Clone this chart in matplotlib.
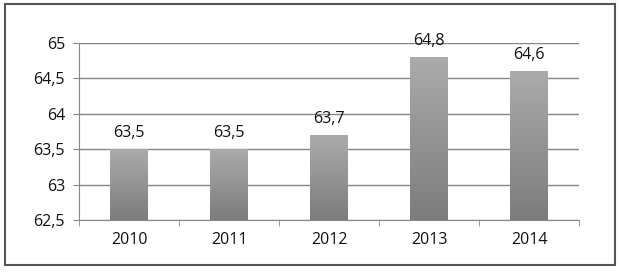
import numpy as np
import matplotlib.pyplot as plt
from matplotlib.colors import LinearSegmentedColormap
from matplotlib.patches import Rectangle

plt.rcParams.update({'font.family': ['Open Sans', 'DejaVu Sans'],
                     'font.size': 11.5})

years = ['2010', '2011', '2012', '2013', '2014']
values = [63.5, 63.5, 63.7, 64.8, 64.6]
yticks = [62.5, 63, 63.5, 64, 64.5, 65]
ytick_labels = ['62,5', '63', '63,5', '64', '64,5', '65']

fig = plt.figure(figsize=(6.2, 2.74), dpi=100)
ax = fig.add_axes([79/620, 1 - 220/274, 500/620, 177/274])

# outer frame
fig.patches.append(Rectangle((5/620, 1 - 265/274), 610/620, 261/274,
                             transform=fig.transFigure, fill=False,
                             edgecolor='#555555', lw=1.5))

x = np.arange(len(years))
bars = ax.bar(x, values, width=0.38, color='none', zorder=3)

ax.set_xlim(-0.5, len(years) - 0.5)
ax.set_ylim(62.5, 65)

# vertical gradient in each bar
cmap = LinearSegmentedColormap.from_list('g', ['#7c7c7c', '#ababab'])
grad = np.linspace(0, 1, 256).reshape(-1, 1)
for b in bars:
    x0, w = b.get_x(), b.get_width()
    ax.imshow(grad, cmap=cmap, origin='lower', aspect='auto',
              extent=(x0, x0 + w, 62.5, b.get_height()), zorder=3)

for xi, v in zip(x, values):
    ax.annotate(f'{v:.1f}'.replace('.', ','), (xi, v), xytext=(0, 6),
                textcoords='offset points', ha='center', va='bottom',
                color='#111111', zorder=4)

ax.set_yticks(yticks)
ax.set_yticklabels(ytick_labels)
ax.set_xticks(x)
ax.set_xticklabels(years)
ax.set_xticks(np.arange(-0.5, len(years)), minor=True)
ax.tick_params(axis='x', which='major', length=0, pad=9, labelcolor='#111111')
ax.tick_params(axis='x', which='minor', length=4, color='#888888', direction='out')
ax.tick_params(axis='y', length=4, color='#888888', pad=6, labelcolor='#111111')

ax.grid(axis='y', color='#858585', lw=1, zorder=0)
for s in ['top', 'right']:
    ax.spines[s].set_visible(False)
ax.spines['left'].set_color('#888888')
ax.spines['bottom'].set_color('#888888')

plt.savefig('out.png', dpi=100)
